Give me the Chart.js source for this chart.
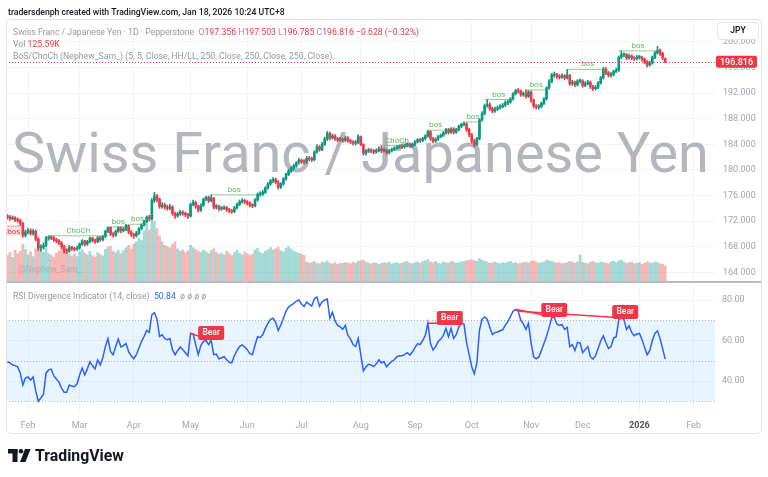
<!DOCTYPE html>
<html>
<head>
<meta charset="utf-8">
<title>CHFJPY 1D</title>
<script src="https://cdn.jsdelivr.net/npm/chart.js@4.4.1/dist/chart.umd.min.js"></script>
<style>
html,body{margin:0;padding:0;background:#ffffff;overflow:hidden;}
#chart{display:block;}
</style>
</head>
<body>
<canvas id="chart" width="768" height="477"></canvas>
<script>
// ================= DATA =================
const firstDate = '2025-01-22';
const holidays = ['2025-12-25', '2026-01-01'];
const totalSlots = 276;
const monthNames = ['Jan','Feb','Mar','Apr','May','Jun','Jul','Aug','Sep','Oct','Nov','Dec'];

const opens = [
172.8,172.6,172.4,172.5,172.2,172.1,171.6,169.8,170.3,170.5,
170.1,170.4,169.2,167.8,167.9,168.2,169.3,169.5,169.4,169.1,
168.9,168.6,168.0,167.4,167.3,167.9,167.7,167.6,167.8,168.4,
168.9,168.4,168.8,169.3,169.0,168.8,169.4,169.1,169.6,170.4,
171.0,170.0,169.8,170.4,171.0,170.5,170.7,171.3,170.3,169.9,
169.7,170.1,170.8,171.4,171.9,172.6,172.4,175.2,175.9,175.4,
174.3,174.5,174.2,174.0,174.2,173.2,172.8,173.1,173.4,173.2,
173.0,172.8,174.6,174.9,174.3,173.7,174.5,175.4,175.7,175.2,
175.6,174.2,174.3,173.9,174.0,174.1,173.8,173.6,173.5,174.1,
174.6,175.0,175.2,175.0,174.8,174.5,174.4,175.3,176.2,176.2,
176.5,177.2,177.8,178.3,178.5,178.1,177.3,177.8,178.6,179.3,
179.8,180.2,180.6,181.1,181.5,181.3,181.2,181.8,181.7,181.6,
182.8,183.6,183.2,184.0,184.8,185.7,185.0,185.3,184.9,184.7,
184.8,184.6,185.0,184.6,184.4,184.2,184.3,185.2,184.0,182.6,
182.9,183.1,183.0,182.8,183.0,183.3,183.0,183.1,182.7,183.0,
183.2,183.4,183.6,183.7,183.6,183.8,184.0,183.7,184.0,184.4,
184.7,184.6,184.9,185.3,186.0,184.9,184.5,184.8,185.2,185.4,
185.8,186.3,185.9,186.4,185.9,186.3,186.8,187.1,187.2,186.3,
185.5,184.5,184.0,184.9,187.8,188.8,190.0,190.2,189.6,189.2,
189.5,189.7,189.9,190.1,190.5,190.6,191.1,191.9,192.4,192.3,
191.8,191.9,191.5,192.2,190.9,190.0,189.8,189.9,190.4,191.1,
192.8,193.8,194.8,194.9,194.6,194.5,194.7,194.4,194.8,193.5,
193.7,193.3,193.9,193.9,193.2,193.5,193.7,193.0,192.7,192.9,
193.6,194.4,195.8,195.2,194.8,194.9,195.4,195.6,197.6,198.0,
198.0,197.5,197.8,197.5,197.4,197.6,197.6,197.3,196.9,196.4,
196.7,197.6,198.3,198.7,198.2,197.356
];
const highs = [
173.0,172.9,172.8,172.7,172.5,172.3,171.8,170.6,170.9,170.8,
170.7,170.6,169.4,168.3,168.6,169.6,169.7,169.7,169.6,169.3,
169.1,168.8,168.2,167.7,168.2,168.1,167.9,168.1,168.6,169.1,
169.0,169.0,169.5,169.5,169.2,169.6,169.6,169.8,170.6,171.1,
171.1,170.2,170.6,171.1,171.1,171.0,171.5,171.4,170.5,170.1,
170.4,171.0,171.6,172.1,172.8,172.9,175.5,176.5,176.2,175.6,
174.9,174.8,174.5,174.6,174.4,173.4,173.4,173.7,173.6,173.4,
173.2,174.8,175.3,175.1,174.5,174.7,175.6,175.9,175.9,176.1,
175.7,174.6,174.5,174.3,174.4,174.3,174.0,173.8,174.3,174.8,
175.3,175.5,175.4,175.2,175.0,174.7,175.5,176.4,176.6,176.8,
177.4,178.0,178.5,178.8,178.7,178.3,178.0,178.8,179.5,180.1,
180.5,180.9,181.3,181.8,181.7,181.6,182.1,182.1,182.0,183.0,
183.9,183.8,184.3,185.1,186.0,185.9,185.6,185.5,185.1,185.1,
185.0,185.3,185.2,184.8,184.6,184.6,185.5,185.3,184.1,183.2,
183.4,183.3,183.2,183.3,183.6,183.8,183.4,183.3,183.2,183.4,
183.6,183.8,183.9,183.9,184.0,184.2,184.2,184.2,184.6,184.9,
184.9,185.1,185.5,186.2,186.1,185.1,185.0,185.4,185.6,186.0,
186.5,186.5,186.6,186.6,186.5,187.0,187.3,187.5,187.4,186.5,
185.7,184.8,185.1,188.0,189.1,190.3,191.0,190.5,189.8,189.8,
190.0,190.2,190.4,190.8,190.9,191.3,192.1,192.6,192.7,192.5,
192.2,192.5,192.4,192.3,191.1,190.2,190.2,190.6,191.3,193.0,
194.1,195.1,195.3,195.1,194.9,195.0,194.9,195.7,194.9,194.0,
193.9,194.1,194.2,194.1,193.8,194.0,193.9,193.2,193.2,193.8,
194.6,196.0,196.0,195.4,195.2,195.6,195.9,197.8,198.6,198.3,
198.2,198.1,198.0,197.7,197.9,197.9,197.8,197.5,197.1,197.0,
197.8,198.5,199.3,198.9,198.4,197.503
];
const lows = [
172.3,172.1,172.2,171.9,171.8,171.3,169.5,169.5,170.0,169.8,
169.8,168.9,167.4,167.3,167.6,168.0,169.0,169.1,168.8,168.6,
168.3,167.7,167.0,166.9,167.1,167.4,167.3,167.4,167.6,168.2,
168.1,168.2,168.6,168.7,168.5,168.6,168.8,168.9,169.4,170.2,
169.7,169.5,169.6,170.2,170.2,170.3,170.5,170.0,169.6,169.3,
169.5,169.9,170.6,171.2,171.7,172.0,172.2,174.9,175.0,174.0,
174.0,173.9,173.7,173.8,172.9,172.4,172.6,172.9,172.9,172.7,
172.4,172.6,174.4,174.0,173.4,173.5,174.3,175.2,174.9,175.0,
173.9,173.9,173.6,173.7,173.8,173.5,173.3,173.2,173.3,173.9,
174.4,174.8,174.7,174.5,174.2,174.1,174.2,175.1,175.9,176.0,
176.3,177.0,177.6,178.0,177.8,177.0,177.1,177.6,178.4,179.1,
179.6,180.0,180.4,180.9,181.0,180.9,181.0,181.4,181.3,181.4,
182.6,182.9,183.0,183.8,184.6,184.7,184.8,184.6,184.4,184.5,
184.3,184.4,184.3,184.1,183.9,183.9,184.1,183.8,182.3,182.3,
182.7,182.7,182.5,182.6,182.8,182.7,182.8,182.4,182.5,182.8,
183.0,183.2,183.4,183.3,183.4,183.6,183.5,183.5,183.8,184.2,
184.3,184.4,184.7,185.1,184.6,184.2,184.3,184.6,185.0,185.2,
185.6,185.6,185.7,185.6,185.7,186.1,186.6,186.9,186.0,185.2,
184.2,183.6,183.8,184.7,187.6,188.6,189.8,189.3,188.9,189.0,
189.3,189.5,189.7,189.9,190.2,190.4,190.9,191.7,192.0,191.5,
191.5,191.2,191.3,190.6,189.7,189.5,189.5,189.7,190.2,190.9,
192.6,193.6,194.5,194.3,194.2,194.3,194.1,194.2,193.2,193.2,
193.0,193.1,193.6,192.9,193.0,193.3,192.7,192.4,192.5,192.7,
193.4,194.2,194.9,194.5,194.5,194.7,195.2,195.4,197.4,197.7,
197.2,197.3,197.2,197.1,197.2,197.3,197.0,196.6,196.1,196.2,
196.5,197.4,198.1,197.9,197.2,196.785
];
const closes = [
172.6,172.4,172.5,172.2,172.1,171.6,169.8,170.3,170.5,170.1,
170.4,169.2,167.8,167.9,168.2,169.3,169.5,169.4,169.1,168.9,
168.6,168.0,167.4,167.3,167.9,167.7,167.6,167.8,168.4,168.9,
168.4,168.8,169.3,169.0,168.8,169.4,169.1,169.6,170.4,171.0,
170.0,169.8,170.4,171.0,170.5,170.7,171.3,170.3,169.9,169.7,
170.1,170.8,171.4,171.9,172.6,172.4,175.2,175.9,175.4,174.3,
174.5,174.2,174.0,174.2,173.2,172.8,173.1,173.4,173.2,173.0,
172.8,174.6,174.9,174.3,173.7,174.5,175.4,175.7,175.2,175.6,
174.2,174.3,173.9,174.0,174.1,173.8,173.6,173.5,174.1,174.6,
175.0,175.2,175.0,174.8,174.5,174.4,175.3,176.2,176.2,176.5,
177.2,177.8,178.3,178.5,178.1,177.3,177.8,178.6,179.3,179.8,
180.2,180.6,181.1,181.5,181.3,181.2,181.8,181.7,181.6,182.8,
183.6,183.2,184.0,184.8,185.7,185.0,185.3,184.9,184.7,184.8,
184.6,185.0,184.6,184.4,184.2,184.3,185.2,184.0,182.6,182.9,
183.1,183.0,182.8,183.0,183.3,183.0,183.1,182.7,183.0,183.2,
183.4,183.6,183.7,183.6,183.8,184.0,183.7,184.0,184.4,184.7,
184.6,184.9,185.3,186.0,184.9,184.5,184.8,185.2,185.4,185.8,
186.3,185.9,186.4,185.9,186.3,186.8,187.1,187.2,186.3,185.5,
184.5,184.0,184.9,187.8,188.8,190.0,190.2,189.6,189.2,189.5,
189.7,189.9,190.1,190.5,190.6,191.1,191.9,192.4,192.3,191.8,
191.9,191.5,192.2,190.9,190.0,189.8,189.9,190.4,191.1,192.8,
193.8,194.8,194.9,194.6,194.5,194.7,194.4,194.8,193.5,193.7,
193.3,193.9,193.9,193.2,193.5,193.7,193.0,192.7,192.9,193.6,
194.4,195.8,195.2,194.8,194.9,195.4,195.6,197.6,198.0,198.0,
197.5,197.8,197.5,197.4,197.6,197.6,197.3,196.9,196.4,196.7,
197.6,198.3,198.7,198.2,197.444,196.816
];
// volume in thousands
const volumes = [
215,240,198,260,230,250,310,265,220,245,
205,270,300,255,240,280,230,215,200,235,
250,270,285,240,225,210,230,205,245,260,
235,220,250,215,200,240,225,210,265,285,
290,250,240,260,230,255,280,300,270,310,
330,360,340,420,480,430,550,500,440,380,
330,300,290,280,310,330,270,250,260,240,
255,300,280,265,250,240,260,245,230,255,
270,240,225,235,220,250,230,215,240,260,
235,220,245,230,215,225,260,275,240,230,
250,265,280,260,270,285,255,245,275,290,
270,250,240,230,225,215,160,150,155,165,
150,145,160,155,170,150,145,155,140,150,
148,155,150,145,160,150,165,170,175,160,
150,145,155,150,140,148,155,150,160,145,
150,155,145,150,160,165,150,145,155,160,
150,165,170,180,160,155,165,150,145,160,
155,150,165,160,150,155,160,165,170,175,
180,170,165,190,175,165,160,150,155,160,
150,145,155,150,160,165,150,155,145,150,
155,160,150,165,170,160,150,155,160,175,
170,165,160,150,155,145,150,155,165,160,
150,160,220,155,150,145,160,165,155,150,
160,155,150,145,160,165,155,170,175,160,
150,155,160,145,150,155,140,150,160,155,
150,160,155,145,140,125.59
];
const rsiValues = [
49.5,49,48,47.6,47,44,38,41.5,42,40.5,
42,35,30,31.6,33.5,44,45.5,45.9,42.5,41,
39.5,36.5,34.5,34.5,38,37.5,37.2,38.5,43,46.4,
43,46,49.5,47.5,46,50.4,48,51.5,57,61,
54.5,53,57,60.7,56.8,57.5,58.5,54.5,52.5,51,
53,56.3,59.5,62,65,64,72.6,73.7,70.5,62,
62.8,61,60.4,61,55.5,53,55,56.8,55.5,54,
52.5,63.5,63.3,58,53,57.5,59.5,60,58,60,
53,53.3,51,51.5,52,50.5,49.3,49,52.5,55,
57,57.8,56.8,55.5,53.5,53,57.8,61.9,61.5,62.8,
66,68.5,70.5,71,69,65,67.6,71,74.5,76.5,
77.5,78.3,79.5,80,78,76.8,79,78,77,80.5,
81.5,77,79,80,80.5,71,74,69.8,67.5,66.8,
65.5,67.5,62.5,60.8,58,57,61,53,45,47,
48.3,48,47.2,48.5,50.5,49,49.5,47,48.5,49.7,
50.5,52,52.5,52.5,53,54,52.8,54.3,56.5,58.5,
58,60,62.5,68.5,58.6,55.3,57,59.5,60.7,62.5,
66,61.9,66,61,63,66.8,68.5,68.1,59,53,
47,43.5,49,65.2,70.5,71.6,70.5,66.5,63,63.9,
64.2,64.8,65.3,67.5,69.3,71.8,74.5,75.4,74.5,70,
68.2,65.5,68.5,59,52,51,51.8,55,58.5,62,
66.5,71.2,71.5,68.2,67.5,67.8,65.5,66.5,57,58,
55,59,58.8,54,55.5,57,52,50.8,52.5,56,
59.8,62.3,59,56,57,61.2,61.9,70.2,71.2,70.3,
65.5,67.3,64,62.4,63.2,63.5,60.5,56.5,53,55,
60,63.5,64.8,61,56,50.84
];

const priceTicks = [164,168,172,176,180,184,188,192,196,200];
const rsiTicks = [40,60,80];
const rsiBandLevels = [70,50,30];

// BoS / ChoCh structure lines
const bosStart = [0,16,40,47,79,146,163,178,185,201,217,237];
const bosEnd   = [5,39,46,54,97,156,169,183,196,209,233,252];
const bosLevel = [171.2,169.7,171.1,171.5,176.1,183.8,186.2,187.5,191.0,192.5,195.7,198.6];
const bosText  = ['bos','ChoCh','bos','bos','bos','ChoCh','bos','bos','bos','bos','bos','bos'];
const bosBull  = [false,true,true,true,true,true,true,true,true,true,true,true];

// RSI bearish divergences
const bearFromIdx = [71,163,197,198];
const bearFromVal = [63.5,68.5,75.4,74.5];
const bearToIdx   = [79,176,212,238];
const bearToVal   = [60.2,68.5,71.5,71.2];
const bearLabelIdx = [79,171.5,212,239.5];
const bearLabelVal = [60.2,67.7,71.6,70.6];

// texts
const headerText = 'tradersdenph created with TradingView.com, Jan 18, 2026 10:24 UTC+8';
const symbolTitle = 'Swiss Franc / Japanese Yen · 1D · Pepperstone';
const watermarkText = 'Swiss Franc / Japanese Yen';
const bosLegend = 'BoS/ChoCh (Nephew_Sam_) (5, 5, Close, HH/LL, 250, Close, 250, Close, 250, Close)';
const rsiLegend = 'RSI Divergence Indicator (14, close)';
const rsiExtra = 'ø ø ø ø';
const authorMark = '@Nephew_Sam_';
const currency = 'JPY';
const brand = 'TradingView';

// ================= helpers =================
const FONT = 'Roboto, "Liberation Sans", Arial, sans-serif';
const UP = '#089981', DOWN = '#f23645';
const UP_VOL = 'rgba(38,166,154,0.42)', DOWN_VOL = 'rgba(239,83,80,0.42)';

function buildDates() {
  const out = [];
  const d = new Date(firstDate + 'T00:00:00Z');
  while (out.length < totalSlots) {
    const wd = d.getUTCDay();
    const iso = d.toISOString().slice(0, 10);
    if (wd !== 0 && wd !== 6 && !holidays.includes(iso)) out.push(new Date(d.getTime()));
    d.setUTCDate(d.getUTCDate() + 1);
  }
  return out;
}
const dates = buildDates();
const monthTicks = [];
for (let i = 1; i < dates.length; i++) {
  if (dates[i].getUTCMonth() !== dates[i - 1].getUTCMonth()) monthTicks.push(i);
}
function tickLabel(v) {
  const d = dates[Math.round(v)];
  if (!d) return '';
  return d.getUTCMonth() === 0 ? String(d.getUTCFullYear()) : monthNames[d.getUTCMonth()];
}
const idx = closes.map((_, i) => i);
const isUp = i => closes[i] >= opens[i];

function fitSize(ctx, text, target, weight, family) {
  ctx.font = weight + ' 20px ' + family;
  return 20 * target / ctx.measureText(text).width;
}
function drawSegs(ctx, segs, x, y, size) {
  let cx = x;
  for (const s of segs) {
    ctx.font = (s[2] || 400) + ' ' + size + 'px ' + FONT;
    ctx.fillStyle = s[1];
    ctx.fillText(s[0], cx, y);
    cx += ctx.measureText(s[0]).width;
  }
  return cx;
}
function rrect(ctx, x, y, w, h, r) {
  ctx.beginPath();
  ctx.moveTo(x + r, y);
  ctx.lineTo(x + w - r, y); ctx.quadraticCurveTo(x + w, y, x + w, y + r);
  ctx.lineTo(x + w, y + h - r); ctx.quadraticCurveTo(x + w, y + h, x + w - r, y + h);
  ctx.lineTo(x + r, y + h); ctx.quadraticCurveTo(x, y + h, x, y + h - r);
  ctx.lineTo(x, y + r); ctx.quadraticCurveTo(x, y, x + r, y);
  ctx.closePath();
}
const fmtSigned = v => (v < 0 ? '\u2212' : '+') + Math.abs(v);

// ================= datasets =================
const datasets = [];
datasets.push({
  type: 'bar', label: 'wicks', yAxisID: 'y', grouped: false, order: 3,
  data: idx.map(i => ({ x: i, y: [lows[i], highs[i]] })),
  barThickness: 1, backgroundColor: c => isUp(c.dataIndex) ? UP : DOWN
});
datasets.push({
  type: 'bar', label: 'bodies', yAxisID: 'y', grouped: false, order: 2, minBarLength: 1,
  data: idx.map(i => ({ x: i, y: [Math.min(opens[i], closes[i]), Math.max(opens[i], closes[i])] })),
  barThickness: 2, backgroundColor: c => isUp(c.dataIndex) ? UP : DOWN
});
datasets.push({
  type: 'bar', label: 'volume', yAxisID: 'yv', grouped: false, order: 10,
  data: idx.map(i => ({ x: i, y: volumes[i] })),
  barThickness: 2, backgroundColor: c => isUp(c.dataIndex) ? UP_VOL : DOWN_VOL
});
datasets.push({
  type: 'line', label: 'RSI', yAxisID: 'yr', order: 1,
  data: idx.map(i => ({ x: i, y: rsiValues[i] })),
  borderColor: '#2962ff', borderWidth: 1.5, pointRadius: 0, tension: 0, fill: false
});
bosStart.forEach((s, k) => {
  datasets.push({
    type: 'line', label: 'bos' + k, yAxisID: 'y', order: 0,
    data: [{ x: s, y: bosLevel[k] }, { x: bosEnd[k], y: bosLevel[k] }],
    borderColor: bosBull[k] ? 'rgba(76,175,80,0.6)' : 'rgba(242,54,69,0.6)',
    borderWidth: 1, pointRadius: 0, fill: false
  });
});
bearFromIdx.forEach((s, k) => {
  datasets.push({
    type: 'line', label: 'bear' + k, yAxisID: 'yr', order: 0,
    data: [{ x: s, y: bearFromVal[k] }, { x: bearToIdx[k], y: bearToVal[k] }],
    borderColor: '#f23645', borderWidth: 1.5, pointRadius: 0, fill: false
  });
});

// ================= decoration plugin =================
const decor = {
  id: 'decor',
  beforeDatasetsDraw(chart) {
    const { ctx, chartArea: a, scales } = chart;
    const yr = scales.yr, y = scales.y;
    ctx.save();
    // RSI band
    const y70 = yr.getPixelForValue(70), y30 = yr.getPixelForValue(30);
    ctx.fillStyle = 'rgba(33,150,243,0.1)';
    ctx.fillRect(a.left, y70, a.right - a.left, y30 - y70);
    ctx.strokeStyle = 'rgba(120,123,134,0.55)';
    ctx.lineWidth = 1;
    ctx.setLineDash([1, 2]);
    rsiBandLevels.forEach(v => {
      const py = Math.round(yr.getPixelForValue(v)) + 0.5;
      ctx.beginPath(); ctx.moveTo(a.left, py); ctx.lineTo(a.right, py); ctx.stroke();
    });
    ctx.setLineDash([]);
    // watermark
    const cx = (a.left + a.right) / 2;
    const size = fitSize(ctx, watermarkText, 697, 400, FONT);
    ctx.font = '400 ' + size + 'px ' + FONT;
    ctx.fillStyle = '#b4b6bd';
    ctx.textAlign = 'center';
    ctx.textBaseline = 'alphabetic';
    ctx.fillText(watermarkText, cx, 172);
    ctx.restore();
  },
  afterDatasetsDraw(chart) {
    const { ctx, chartArea: a, scales } = chart;
    const x = scales.x, y = scales.y, yr = scales.yr;
    ctx.save();
    // BoS labels
    ctx.font = '400 8px ' + FONT;
    ctx.textAlign = 'center';
    bosStart.forEach((s, k) => {
      const px = x.getPixelForValue((s + bosEnd[k]) / 2);
      const py = y.getPixelForValue(bosLevel[k]);
      if (bosBull[k]) {
        ctx.textBaseline = 'bottom';
        ctx.fillStyle = '#5cb860';
        ctx.fillText(bosText[k], px, py - 1);
      } else {
        const w = ctx.measureText(bosText[k]).width + 3;
        ctx.fillStyle = 'rgba(242,54,69,0.14)';
        ctx.fillRect(px - w / 2, py + 1, w, 9);
        ctx.textBaseline = 'top';
        ctx.fillStyle = '#f23645';
        ctx.fillText(bosText[k], px, py + 1.5);
      }
    });
    // Bear labels
    bearLabelIdx.forEach((s, k) => {
      const px = x.getPixelForValue(s);
      const py = yr.getPixelForValue(bearLabelVal[k]);
      ctx.fillStyle = '#f23645';
      rrect(ctx, px - 13, py - 14, 26, 14, 2);
      ctx.fill();
      ctx.fillStyle = '#ffffff';
      ctx.font = '500 8.5px ' + FONT;
      ctx.textBaseline = 'middle';
      ctx.fillText('Bear', px, py - 7);
    });
    // last price dotted line
    const lp = Math.round(y.getPixelForValue(closes[closes.length - 1])) + 0.5;
    ctx.strokeStyle = '#f23645';
    ctx.lineWidth = 1;
    ctx.setLineDash([1, 2]);
    ctx.beginPath(); ctx.moveTo(a.left, lp); ctx.lineTo(a.right, lp); ctx.stroke();
    ctx.setLineDash([]);
    // author mark
    ctx.textAlign = 'left';
    ctx.textBaseline = 'middle';
    ctx.font = '400 8.5px ' + FONT;
    ctx.fillStyle = 'rgba(149,152,161,0.55)';
    ctx.fillText(authorMark, 18, 270);
    ctx.restore();
  },
  afterDraw(chart) {
    const { ctx, chartArea: a, scales } = chart;
    const y = scales.y, yr = scales.yr;
    ctx.save();
    // frame
    ctx.strokeStyle = '#e0e3eb';
    ctx.lineWidth = 1;
    rrect(ctx, 6.5, 19.5, 755, 414, 4);
    ctx.stroke();
    // pane separator
    ctx.fillStyle = '#b8bbc3';
    ctx.fillRect(7, Math.round(yr.top) - 1, 754, 2);
    // header
    ctx.textAlign = 'left';
    ctx.textBaseline = 'alphabetic';
    const hs = fitSize(ctx, headerText, 277, 500, FONT);
    ctx.font = '500 ' + hs + 'px ' + FONT;
    ctx.fillStyle = '#131722';
    ctx.fillText(headerText, 8, 15);
    // legend lines
    const n = closes.length - 1;
    const chg = closes[n] - closes[n - 1];
    const pct = chg / closes[n - 1] * 100;
    const GRAY = '#9598a1', RED = '#f23645';
    const line1 = [
      [symbolTitle + '  ', GRAY], ['O', GRAY], [opens[n].toFixed(3) + ' ', RED],
      ['H', GRAY], [highs[n].toFixed(3) + ' ', RED], ['L', GRAY], [lows[n].toFixed(3) + ' ', RED],
      ['C', GRAY], [closes[n].toFixed(3) + ' ', RED],
      [fmtSigned(+chg.toFixed(3)) + ' (' + fmtSigned(+pct.toFixed(2)) + '%)', RED]
    ];
    const fullLine = line1.map(s => s[0]).join('');
    const ls = fitSize(ctx, fullLine, 407, 400, FONT);
    drawSegs(ctx, line1, 13, 34.5, ls);
    drawSegs(ctx, [['Vol ', GRAY], [volumes[n].toFixed(2) + 'K', RED]], 13, 46.5, ls);
    drawSegs(ctx, [[bosLegend, GRAY]], 13, 59, ls);
    drawSegs(ctx, [[rsiLegend + '  ', GRAY], [rsiValues[n].toFixed(2), '#2962ff'], ['  ' + rsiExtra, GRAY]], 13, 298.5, ls);
    // currency button
    ctx.fillStyle = '#ffffff';
    rrect(ctx, 717.5, 22.5, 41, 17, 4);
    ctx.fill();
    ctx.strokeStyle = '#e0e3eb';
    ctx.stroke();
    ctx.fillStyle = '#131722';
    ctx.font = '600 8.5px ' + FONT;
    ctx.textAlign = 'center';
    ctx.textBaseline = 'middle';
    ctx.fillText(currency, 738, 31);
    // last price label
    const lp = y.getPixelForValue(closes[n]);
    ctx.fillStyle = '#f23645';
    rrect(ctx, 716, lp - 6.5, 41, 12, 2);
    ctx.fill();
    ctx.fillStyle = '#ffffff';
    ctx.font = '500 9px ' + FONT;
    ctx.fillText(closes[n].toFixed(3), 736.5, lp);
    // TradingView logo
    ctx.fillStyle = '#131722';
    ctx.fillRect(8, 449, 9.5, 4.5);
    ctx.fillRect(12.5, 449, 5, 13);
    ctx.beginPath(); ctx.arc(21, 451.3, 2.3, 0, Math.PI * 2); ctx.fill();
    ctx.beginPath();
    ctx.moveTo(25, 449); ctx.lineTo(30.5, 449); ctx.lineTo(25.5, 462); ctx.lineTo(20, 462);
    ctx.closePath(); ctx.fill();
    const bs = fitSize(ctx, brand, 89, 700, FONT);
    ctx.font = '700 ' + bs + 'px ' + FONT;
    ctx.textAlign = 'left';
    ctx.textBaseline = 'alphabetic';
    ctx.fillText(brand, 35, 461);
    ctx.restore();
  }
};

// ================= chart =================
new Chart(document.getElementById('chart'), {
  type: 'bar',
  data: { datasets },
  options: {
    responsive: false,
    animation: false,
    devicePixelRatio: 1,
    events: [],
    layout: { padding: { left: 6, right: 8, top: 21, bottom: 44 } },
    plugins: { legend: { display: false }, tooltip: { enabled: false } },
    scales: {
      x: {
        type: 'linear', position: 'bottom', min: -0.53, max: 274.3, offset: false,
        afterBuildTicks: s => { s.ticks = monthTicks.map(v => ({ value: v })); },
        afterFit: s => { s.height = 22; },
        ticks: {
          autoSkip: false, maxRotation: 0, padding: 9,
          callback: v => tickLabel(v),
          color: c => (c.tick && c.tick.label === '2026') ? '#50535e' : '#a3a6af',
          font: c => ({ family: FONT, size: 9, weight: (c.tick && c.tick.label === '2026') ? '700' : '400' })
        },
        grid: { color: '#f3f4f8', drawTicks: false, offset: false },
        border: { display: false }
      },
      y: {
        position: 'right', stack: 'panes', stackWeight: 261, weight: 1,
        min: 162.48, max: 203.27,
        afterBuildTicks: s => { s.ticks = priceTicks.map(v => ({ value: v })); },
        afterFit: s => { s.width = 45; },
        ticks: { padding: 8, callback: v => Number(v).toFixed(3), color: '#a3a6af', font: { family: FONT, size: 9 } },
        grid: { color: '#f3f4f8', drawTicks: false },
        border: { display: false }
      },
      yr: {
        position: 'right', stack: 'panes', stackWeight: 129, weight: 2,
        min: 25.2, max: 88.9,
        afterBuildTicks: s => { s.ticks = rsiTicks.map(v => ({ value: v })); },
        afterFit: s => { s.width = 45; },
        ticks: { padding: 7, callback: v => Number(v).toFixed(2), color: '#a3a6af', font: { family: FONT, size: 9 } },
        grid: { color: '#f3f4f8', drawTicks: false },
        border: { display: false }
      },
      yv: { display: false, position: 'left', min: -1092, max: 2184 }
    }
  },
  plugins: [decor]
});
</script>
</body>
</html>
